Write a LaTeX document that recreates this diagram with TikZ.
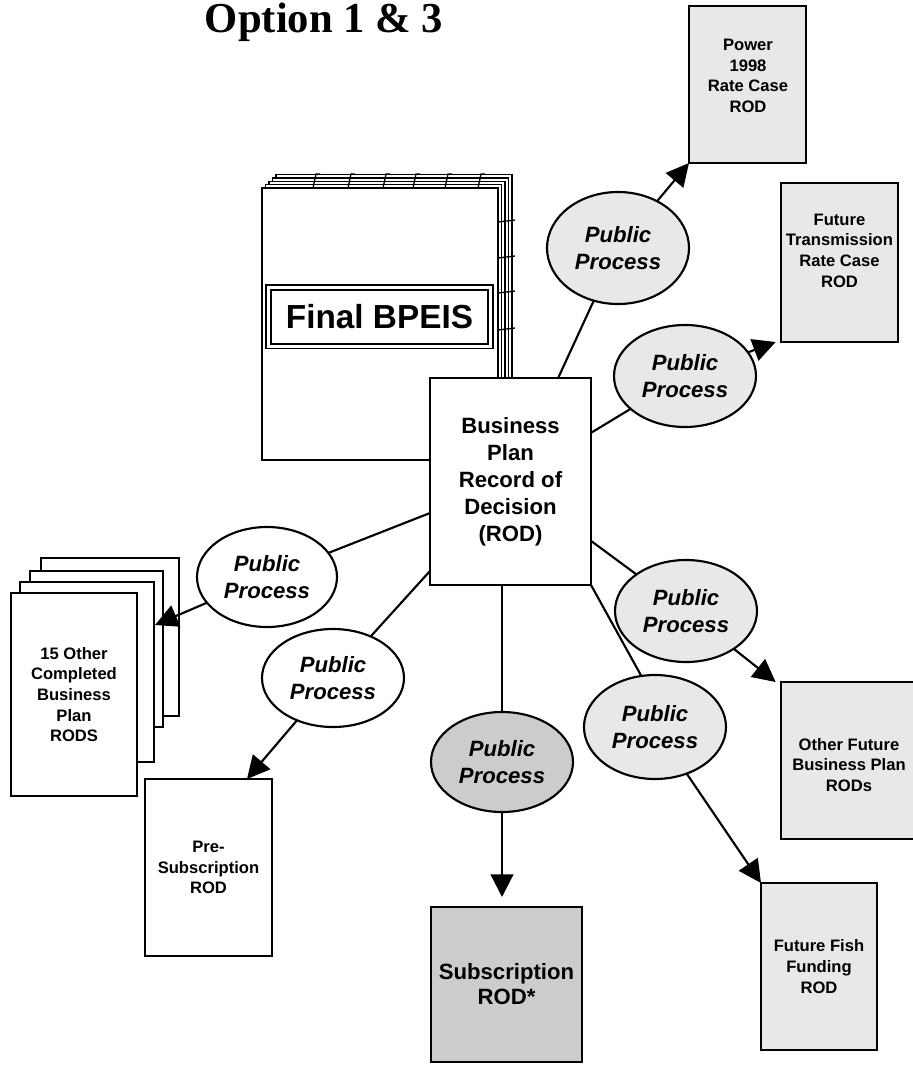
\documentclass[tikz,border=0pt]{standalone}
\usepackage{fontspec}
\setmainfont{Liberation Sans}
\newfontfamily\titlefont{Liberation Serif}
\usetikzlibrary{shapes.geometric,arrows.meta,calc}
\definecolor{lgray}{HTML}{E8E8E8}
\definecolor{dgray}{HTML}{CCCCCC}
\newcommand\diagsmall{\fontsize{12.45}{15.5}\selectfont\bfseries}
\newcommand\diagbig{\fontsize{16.6}{20.25}\selectfont\bfseries}
\newcommand\diagital{\fontsize{16.6}{20.25}\selectfont\bfseries\itshape}
\begin{document}
\begin{tikzpicture}[x=0.75pt,y=-0.75pt,
  every node/.style={inner sep=0pt,outer sep=0pt},
  bx/.style={draw,line width=1.8pt,rectangle,align=center,font=\diagsmall},
  txt/.style={align=center,font=\diagsmall},
  page/.style={draw,fill=white,line width=1pt,minimum width=177pt,minimum height=204pt},
  pp/.style={ellipse,draw,line width=1.6pt,align=center,font=\diagital,minimum width=106.5pt,minimum height=76.5pt},
  conn/.style={line width=1.6pt},
  arr/.style={conn,-{Triangle[length=17pt,width=17pt]}},
  tick/.style={line width=1pt}]
\clip (0,0) rectangle (913,1065);

% title
\node[anchor=base,font=\titlefont\bfseries\fontsize{32}{38}\selectfont] (title) at (324,32) {Option 1 \& 3};

% book (Final BPEIS)
\foreach \k in {4,3,2,1}
  \node[page] (bk\k) at ({380+3.5*\k},{324-3.3*\k}) {};
\foreach \x in {313,348,383,413,445,478}
  \draw[tick] (\x,188) -- (\x+3,174) -- (\x+7,174);
\foreach \y in {222,258,293,330}
  \draw[tick] (498,\y) -- (515,\y-2);
\node[page,line width=1.5pt] (book) at (380,324) {};
\node[draw,double,double distance=2.25pt,line width=1.4pt,minimum width=166.5pt,minimum height=43.9pt,
      font=\fontsize{25}{30}\selectfont\bfseries] (bpeis) at (379.5,316.75) {Final BPEIS};

% central ROD
\node[bx,fill=white,minimum width=120.75pt,minimum height=155.25pt,font=\diagbig] (rod) at (510.5,481.5)
  {Business\\Plan\\Record of\\Decision\\(ROD)};

% target boxes
\node[bx,fill=lgray,minimum width=87.75pt,minimum height=117.75pt] (power) at (747.5,84.5) {};
\node[txt] (powert) at (748,76) {Power\\1998\\Rate Case\\ROD};
\node[bx,fill=lgray,minimum width=87.75pt,minimum height=119.25pt] (ft) at (839.5,262.5) {};
\node[txt] (ftt) at (839.5,250.5) {Future\\Transmission\\Rate Case\\ROD};
\node[bx,fill=lgray,minimum width=102pt,minimum height=117.75pt] (of) at (849,760.5) {};
\node[txt] (oft) at (849,765) {Other Future\\Business Plan\\RODs};
\node[bx,fill=lgray,minimum width=87pt,minimum height=125.25pt] (fish) at (819,966.5) {Future Fish\\Funding\\ROD};
\node[bx,fill=dgray,minimum width=113.25pt,minimum height=116.25pt,font=\fontsize{16.6}{18.75}\selectfont\bfseries] (sub) at (506.5,984.5) {Subscription\\ROD*};
\node[bx,fill=white,minimum width=95.25pt,minimum height=132.75pt] (pre) at (208.5,867.5) {Pre-\\Subscription\\ROD};

% stack of 15 other RODs
\node[bx,fill=white,minimum width=103.5pt,minimum height=118.5pt] (p4) at (110,637) {};
\node[bx,fill=white,minimum width=99.75pt,minimum height=117pt] (p3) at (96.5,649) {};
\node[bx,fill=white,minimum width=100.5pt,minimum height=135pt] (p2) at (87,672) {};
\node[bx,fill=white,minimum width=94.5pt,minimum height=152.25pt] (p1) at (74,694.5) {15 Other\\Completed\\Business\\Plan\\RODS};
\coordinate (t15) at (155,625);

% public process ellipses
\node[pp,fill=lgray,minimum height=84pt] (e1) at (618,248) {Public\\Process};
\node[pp,fill=lgray] (e2) at (685,376) {Public\\Process};
\node[pp,fill=lgray] (er1) at (686,611) {Public\\Process};
\node[pp,fill=lgray,minimum height=78pt] (er2) at (655,727) {Public\\Process};
\node[pp,fill=dgray,minimum height=75pt] (ec) at (502,762) {Public\\Process};
\node[pp,fill=white,minimum height=73.5pt] (ell) at (333,678) {Public\\Process};
\node[pp,fill=white,minimum width=105pt,minimum height=75pt] (el) at (267,577) {Public\\Process};

% connectors
\draw[conn] (rod) -- (e1);
\draw[arr] (e1) -- (power.south west);
\draw[conn] (rod) -- (e2);
\draw[arr] (e2) -- ([xshift=-4pt]ft.south west);
\draw[conn] (rod) -- (er1);
\draw[arr] (er1) -- ([xshift=-4pt]of.north west);
\draw[conn] (rod.south east) -- (er2.105);
\draw[arr] (er2) -- (fish.north west);
\draw[conn] (rod.south -| ec) -- (ec);
\draw[arr,shorten >=7.5pt] (ec) -- (ec |- sub.north);
\draw[conn] ([yshift=10.5pt]rod.south west) -- (ell);
\draw[arr] (ell) -- ([xshift=76.5pt]pre.north west);
\draw[conn] (rod) -- (el);
\draw[arr] (el) -- (t15);
\end{tikzpicture}
\end{document}
